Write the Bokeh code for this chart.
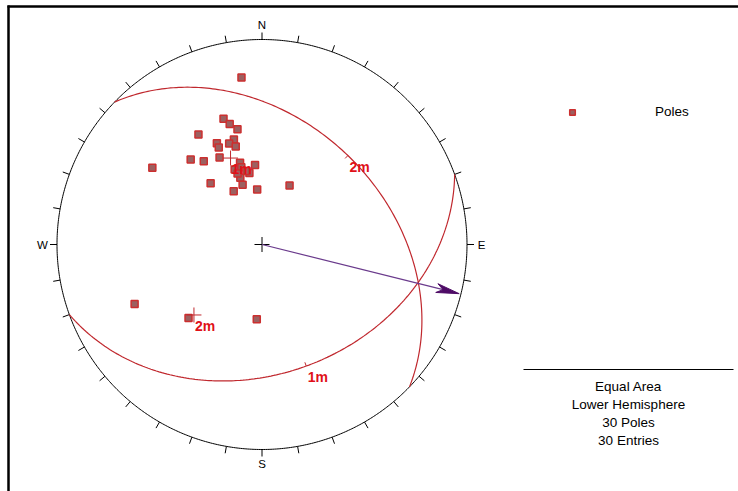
import numpy as np
from bokeh.plotting import figure
from bokeh.models import Range1d, Legend, LegendItem
from bokeh.core.properties import value
from bokeh.embed import file_html
from bokeh.resources import INLINE

# ---------------- data ----------------
pole_trend = [353, 343, 345, 348, 330, 345, 336, 336, 342, 345, 334, 320, 325, 305, 345,
              355, 340, 350, 342, 342, 355, 332, 320, 25, 245, 225, 184, 345, 348, 341]
pole_plunge = [19, 36, 39, 42, 38, 46, 45, 47, 47, 49, 51, 45, 49, 35, 56,
               58, 58, 61, 62, 65, 68, 66, 58, 64, 32, 48, 60, 58, 60, 60]

set_labels = ["1m", "2m"]
set_trend = [340, 224]
set_plunge = [53, 50.5]

arrow_trend = 104
arrow_plunge = 1

cardinal_labels = ["N", "E", "S", "W"]
cardinal_az = [0, 90, 180, 270]
legend_label = "Poles"
info_lines = ["Equal Area", "Lower Hemisphere", "30 Poles", "30 Entries"]

# ---------------- layout (screen px) ----------------
W, H = 738, 491
CX, CY, R = 261.5, 244.0, 205.0


def px(x):
    return (x - CX) / R


def py(y):
    return (CY - y) / R


def project(E, N, D):
    k = 1.0 / np.sqrt(1.0 + D)
    return E * k, N * k


def line_proj(trend, plunge):
    t = np.radians(np.asarray(trend, dtype=float))
    p_ = np.radians(np.asarray(plunge, dtype=float))
    return project(np.cos(p_) * np.sin(t), np.cos(p_) * np.cos(t), np.sin(p_))


def great_circle(trend, plunge, n=181):
    dd = np.radians(trend + 180.0)
    dip = np.radians(90.0 - plunge)
    st = dd - np.pi / 2
    s = np.array([np.sin(st), np.cos(st), 0.0])
    d = np.array([np.cos(dip) * np.sin(dd), np.cos(dip) * np.cos(dd), np.sin(dip)])
    th = np.radians(np.linspace(0, 180, n))
    v = np.outer(np.cos(th), s) + np.outer(np.sin(th), d)
    return project(v[:, 0], v[:, 1], v[:, 2])


FONT = value("Liberation Sans")
RED_LINE = "#c0282e"
RED_TEXT = "#e01018"

p = figure(width=W, height=H, x_range=Range1d(px(0), px(W)), y_range=Range1d(py(H), py(0)),
           output_backend="svg", toolbar_location=None, min_border=0,
           x_axis_location=None, y_axis_location=None)
p.grid.visible = False
p.outline_line_color = None
p.background_fill_color = "white"
p.border_fill_color = "white"

# frame (top & left)
p.line([px(7), px(W)], [py(6), py(6)], line_color="black", line_width=2.5)
p.line([px(8), px(8)], [py(5), py(H)], line_color="black", line_width=2.5)

# primitive circle
a = np.radians(np.linspace(0, 360, 721))
p.line(np.sin(a), np.cos(a), line_color="black", line_width=1)

# ticks every 10 degrees, outward
tick_az = np.radians(np.arange(0, 360, 10))
tl = 7.0 / R
p.segment(x0=np.sin(tick_az), y0=np.cos(tick_az),
          x1=(1 + tl) * np.sin(tick_az), y1=(1 + tl) * np.cos(tick_az),
          line_color="black", line_width=1)

# cardinal labels
ca = np.radians(cardinal_az)
rl = 1.0 + 14.5 / R
p.text(x=rl * np.sin(ca), y=rl * np.cos(ca), text=cardinal_labels,
       text_align="center", text_baseline="middle", text_font=FONT,
       text_font_size="11.5px", text_color="black")

# great circles of the mean planes, with dip tick and label
for lab, t, pl in zip(set_labels, set_trend, set_plunge):
    gx, gy = great_circle(t, pl)
    p.line(gx, gy, line_color=RED_LINE, line_width=1.2)
    mx, my = gx[90], gy[90]
    m = np.hypot(mx, my)
    k = 4.0 / R
    p.segment(x0=[mx], y0=[my], x1=[mx * (1 - k / m)], y1=[my * (1 - k / m)],
              line_color=RED_LINE, line_width=1)
    p.text(x=[mx + 1.5 / R], y=[my - 3.0 / R], text=[lab], text_align="left",
           text_baseline="top", text_font=FONT, text_font_size="14px",
           text_font_style="bold", text_color=RED_TEXT)

# poles
pxs, pys = line_proj(pole_trend, pole_plunge)
poles_r = p.scatter(pxs, pys, marker="square", size=7, fill_color="#9c6060",
                    line_color="#cc2f2f", line_width=1.5)

# mean poles
mxs, mys = line_proj(set_trend, set_plunge)
p.scatter(mxs, mys, marker="cross", size=15, line_color=RED_LINE, line_width=1)
p.text(x=mxs + 1.0 / R, y=mys - 3.0 / R, text=set_labels, text_align="left",
       text_baseline="top", text_font=FONT, text_font_size="14px",
       text_font_style="bold", text_color=RED_TEXT)

# centre cross
p.scatter([0], [0], marker="cross", size=15, line_color="black", line_width=1)

# arrow
ax, ay = line_proj([arrow_trend], [arrow_plunge])
T = np.array([ax[0], ay[0]])
u = T / np.hypot(*T)
nrm = np.array([-u[1], u[0]])
L, w = 23.0 / R, 4.5 / R
notch = T - 0.72 * L * u
p.line([0, notch[0]], [0, notch[1]], line_color="#6a3a8c", line_width=1.2)
head = np.array([T, T - L * u + w * nrm, notch, T - L * u - w * nrm])
p.patch(head[:, 0], head[:, 1], fill_color="#4e0b66", line_color="#4e0b66", line_width=1)

# legend
legend = Legend(items=[LegendItem(label=legend_label, renderers=[poles_r])],
                location=(565, 372), padding=0, margin=0, spacing=0,
                glyph_width=14, glyph_height=14, label_height=14, label_standoff=76,
                border_line_color=None, background_fill_alpha=0,
                label_text_font="Liberation Sans", label_text_font_size="13.5px",
                label_text_color="black")
p.add_layout(legend)

# info block
p.line([px(523), px(733)], [py(369), py(369)], line_color="black", line_width=1)
p.text(x=[px(628)] * len(info_lines), y=[py(386 + 18 * i) for i in range(len(info_lines))],
       text=info_lines, text_align="center", text_baseline="middle", text_font=FONT,
       text_font_size="13.5px", text_color="black")

open("out.html", "w").write(file_html(p, INLINE))
